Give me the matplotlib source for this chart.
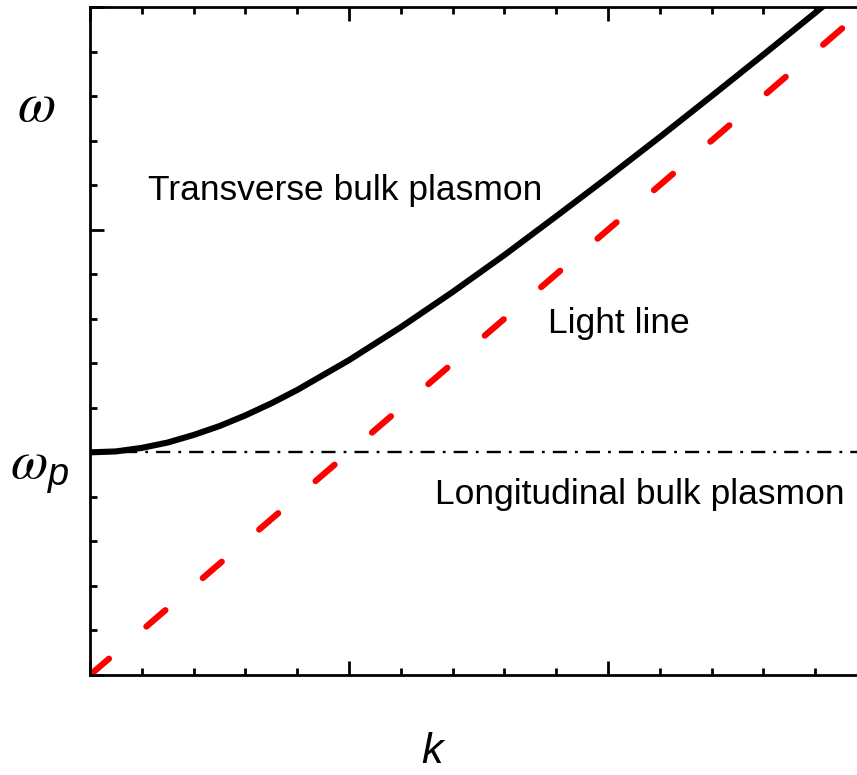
import matplotlib
matplotlib.use("Agg")
import matplotlib.pyplot as plt
from matplotlib.ticker import MultipleLocator

# dispersion of the transverse bulk plasmon (read in units of the minor ticks)
k_tr = [0.0, 0.5, 1.0, 1.5, 2.0, 2.5, 3.0, 3.5, 4.0, 5.0, 6.0, 7.0, 8.0, 9.0,
        10.0, 11.0, 12.0, 13.0, 14.0, 14.6]
w_tr = [5.0, 5.02, 5.1, 5.22, 5.39, 5.59, 5.83, 6.1, 6.4, 7.07, 7.81, 8.6, 9.43,
        10.3, 11.18, 12.08, 13.0, 13.93, 14.87, 15.45]

# light line w = c k
k_light = [0.0, 15.0]
w_light = [0.0, 15.0]

# longitudinal bulk plasmon, flat at w_p
k_long = [0.0, 15.0]
w_long = [5.0, 5.0]

# serif italic omega, sans italic subscript
plt.rcParams["mathtext.fontset"] = "custom"
plt.rcParams["mathtext.rm"] = "STIXGeneral"
plt.rcParams["mathtext.it"] = "STIXGeneral:italic"
plt.rcParams["mathtext.sf"] = "Liberation Sans:italic"

fig = plt.figure(figsize=(8.57, 7.75), dpi=100)
ax = fig.add_axes([90 / 857, 1 - 675 / 775, 777 / 857, 668 / 775])

ax.plot(k_long, w_long, color="black", lw=1.7, dashes=(6, 3.4, 1.2, 3.4))
ax.plot(k_light, w_light, color="#ff0000", lw=4.5, dashes=(4, 7.9),
        dash_capstyle="round")
ax.plot(k_tr, w_tr, color="black", lw=4.4, solid_capstyle="butt")

ax.set_xlim(0, 15)
ax.set_ylim(0, 15)

ax.xaxis.set_major_locator(MultipleLocator(5))
ax.xaxis.set_minor_locator(MultipleLocator(1))
ax.yaxis.set_major_locator(MultipleLocator(5))
ax.yaxis.set_minor_locator(MultipleLocator(1))
ax.tick_params(which="both", direction="in", top=True, right=False,
               labelbottom=False, labelleft=False, width=2)
ax.tick_params(which="major", length=10)
ax.tick_params(which="minor", length=5)
for s in ["left", "bottom", "top"]:
    ax.spines[s].set_linewidth(2)
ax.spines["right"].set_visible(False)

sans = "Liberation Sans"
ax.text(1.12, 10.87, "Transverse bulk plasmon", fontsize=25.5, family=sans,
        va="center", ha="left")
ax.text(8.84, 7.89, "Light line", fontsize=25.5, family=sans,
        va="center", ha="left")
ax.text(6.66, 4.05, "Longitudinal bulk plasmon", fontsize=25.5, family=sans,
        va="center", ha="left")

fig.text(36 / 857, 1 - 106 / 775, r"$\omega$", fontsize=40,
         ha="center", va="center")
fig.text(10 / 857, 1 - 479 / 775, r"$\omega_{\mathsf{p}}$", fontsize=39,
         ha="left", va="baseline")
fig.text(432 / 857, 1 - 752 / 775, "k", fontsize=31, family=sans,
         style="italic", ha="center", va="center")

fig.savefig("out.png", dpi=100)
